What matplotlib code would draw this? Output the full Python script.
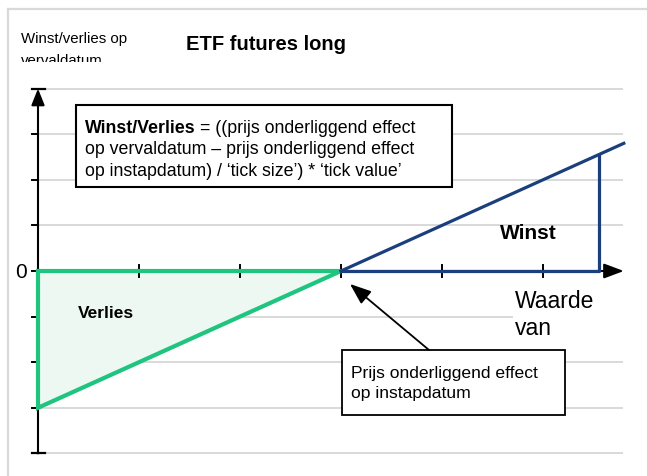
import matplotlib
matplotlib.use("Agg")
import matplotlib.pyplot as plt
from matplotlib.patches import Rectangle, Polygon

plt.rcParams['font.family'] = ['Liberation Sans', 'DejaVu Sans']

# payoff of a long ETF future at expiry (price units vs. profit units)
entry_price = 3
x_ticks = [1, 2, 3, 4, 5]
y_ticks = [-3, -2, -1, 1, 2, 3]
grid_y = [-4, -3, -2, -1, 1, 2, 3, 4]
loss_x = [0, 3, 0]
loss_y = [0, 0, -3]
profit_x = [3, 5.8]
profit_y = [0, 2.8]
winst_x = 5.55
x_axis_end = 5.8
y_axis_range = [-4, 4]

title = "ETF futures long"
y_label = ["Winst/verlies op", "vervaldatum"]
x_label = ["Waarde", "van"]
formula_bold = "Winst/Verlies"
formula_lines = ["= ((prijs onderliggend effect",
                 "op vervaldatum \u2013 prijs onderliggend effect",
                 "op instapdatum) / \u2018tick size\u2019) * \u2018tick value\u2019"]
callout = ["Prijs onderliggend effect", "op instapdatum"]

W, H = 647, 477
X0, SX = 38, 101.0    # pixel of x=0 and pixels per unit
Y0, SY = 272, 45.6    # pixel of y=0 and pixels per unit


def dx(px):
    return (px - X0) / SX


def dy(py):
    return (Y0 - py) / SY


GREEN = '#1fc47f'
BLUE = '#1b3f7c'
GRID = '#d9d9d9'

fig = plt.figure(figsize=(W / 100, H / 100), dpi=100)
ax = fig.add_axes([0, 0, 1, 1])
ax.set_xlim(dx(0), dx(W))
ax.set_ylim(dy(H), dy(0))
ax.axis('off')

# outer gray frame
ax.plot([dx(8), dx(W)], [dy(9.5), dy(9.5)], color=GRID, lw=1.6, zorder=1)
ax.plot([dx(8), dx(8)], [dy(9.5), dy(H)], color=GRID, lw=1.6, zorder=1)

# gridlines
ax.hlines(grid_y, 0, dx(623), color=GRID, lw=1.4, zorder=1)

# loss triangle
ax.add_patch(Polygon(list(zip(loss_x, loss_y)), closed=True, facecolor='#eef8f3',
                     edgecolor='none', zorder=2))

# axes with arrows
ax.annotate('', xy=(x_axis_end, 0), xytext=(0, 0),
            arrowprops=dict(arrowstyle='-|>,head_length=1.2,head_width=0.45',
                            color='black', lw=1.5, shrinkA=0, shrinkB=0), zorder=3)
ax.annotate('', xy=(0, y_axis_range[1]), xytext=(0, y_axis_range[0]),
            arrowprops=dict(arrowstyle='-|>,head_length=1.0,head_width=0.4',
                            color='black', lw=1.5, shrinkA=0, shrinkB=0), zorder=3)
for t in x_ticks:
    ax.plot([t, t], [dy(Y0 - 6), dy(Y0 + 6)], color='black', lw=1.4, zorder=3)
for t in y_ticks + [0]:
    ax.plot([dx(32), 0], [t, t], color='black', lw=1.4, zorder=3)
for t in y_axis_range:
    ax.plot([dx(32), dx(45)], [t, t], color='black', lw=1.6, zorder=3)

# payoff lines
ax.plot(loss_x + [loss_x[0]], loss_y + [loss_y[0]], color=GREEN, lw=3.0,
        solid_joinstyle='miter', zorder=4)
ax.plot(profit_x, profit_y, color=BLUE, lw=2.3, zorder=4)
ax.plot([entry_price, winst_x, winst_x], [0, 0, winst_x - entry_price],
        color=BLUE, lw=2.3, zorder=4)

# texts
ax.text(dx(266), dy(45), title, fontsize=14.5, fontweight='bold',
        ha='center', va='center')
ax.text(dx(21), dy(272), "0", fontsize=15, ha='center', va='center')
ax.text(dx(528), dy(239), "Winst", fontsize=15, fontweight='bold',
        ha='center', va='baseline', zorder=5)
ax.text(dx(78), dy(318), "Verlies", fontsize=12.5, fontweight='bold',
        ha='left', va='baseline', zorder=5)

# clipped y label
lab_ax = fig.add_axes([0, 1 - 63 / H, 0.4, 63 / H])
lab_ax.axis('off')
lab_ax.text(21 / W, 1 - 43 / H, y_label[0], fontsize=10.8, transform=fig.transFigure,
            va='baseline', clip_on=True)
lab_ax.text(21 / W, 1 - 65 / H, y_label[1], fontsize=10.8, transform=fig.transFigure,
            va='baseline', clip_on=True)

# x label with white background
ax.add_patch(Rectangle((dx(513), dy(345)), dx(640) - dx(513), dy(282) - dy(345),
                       facecolor='white', edgecolor='none', zorder=2))
ax.text(dx(515), dy(308), x_label[0], fontsize=16.5, va='baseline', zorder=5)
ax.text(dx(515), dy(335), x_label[1], fontsize=16.5, va='baseline', zorder=5)

# formula box
ax.add_patch(Rectangle((dx(76), dy(188)), dx(452) - dx(76), dy(106) - dy(188),
                       facecolor='white', edgecolor='black', lw=1.5, zorder=6))
tb = ax.text(dx(85), dy(133), formula_bold, fontsize=12.8, fontweight='bold',
             va='baseline', zorder=7)
fig.canvas.draw()
bx = tb.get_window_extent(fig.canvas.get_renderer()).x1
ax.text(dx(bx + 4), dy(133), formula_lines[0], fontsize=12.8, va='baseline', zorder=7)
ax.text(dx(85), dy(154.5), formula_lines[1], fontsize=12.8, va='baseline', zorder=7)
ax.text(dx(85), dy(176), formula_lines[2], fontsize=12.8, va='baseline', zorder=7)

# callout box with arrow
ax.add_patch(Rectangle((dx(342), dy(416)), dx(565) - dx(342), dy(351) - dy(416),
                       facecolor='white', edgecolor='black', lw=1.3, zorder=6))
ax.text(dx(351), dy(378), callout[0], fontsize=12.6, va='baseline', zorder=7)
ax.text(dx(351), dy(398), callout[1], fontsize=12.6, va='baseline', zorder=7)
ax.annotate('', xy=(dx(350), dy(285)), xytext=(dx(429), dy(351)),
            arrowprops=dict(arrowstyle='-|>,head_length=1.3,head_width=0.5',
                            color='black', lw=1.3, shrinkA=0, shrinkB=0), zorder=6)

fig.savefig("out.png", dpi=100)
